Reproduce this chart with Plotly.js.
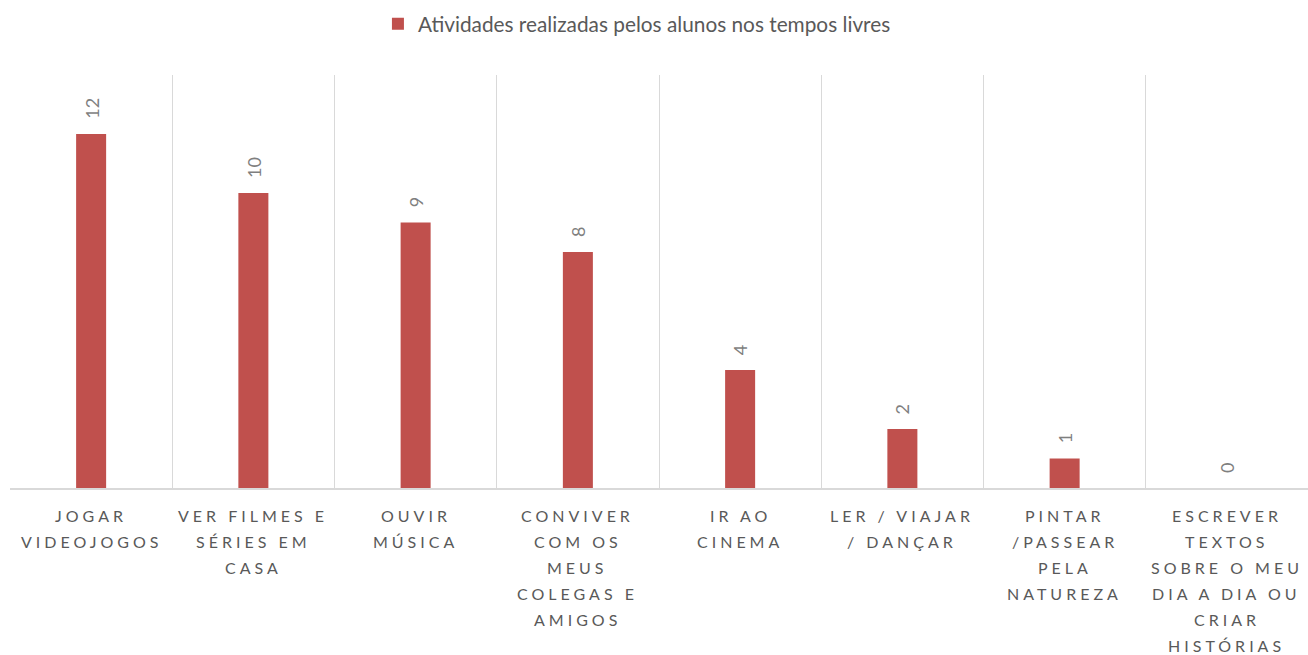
<!DOCTYPE html>
<html>
<head>
<meta charset="utf-8">
<script src="https://cdn.plot.ly/plotly-3.0.1.min.js"></script>
<style>
html, body { margin: 0; padding: 0; background: #fff; }
#chart { width: 1308px; height: 655px; }
</style>
</head>
<body>
<div id="chart"></div>
<script>
const seriesName = "Atividades realizadas pelos alunos nos tempos livres";
const categories = [
  "JOGAR VIDEOJOGOS",
  "VER FILMES E SÉRIES EM CASA",
  "OUVIR MÚSICA",
  "CONVIVER COM OS MEUS COLEGAS E AMIGOS",
  "IR AO CINEMA",
  "LER / VIAJAR / DANÇAR",
  "PINTAR /PASSEAR PELA NATUREZA",
  "ESCREVER TEXTOS SOBRE O MEU DIA A DIA OU CRIAR HISTÓRIAS"
];
const labelLines = [
  ["JOGAR", "VIDEOJOGOS"],
  ["VER FILMES E", "SÉRIES EM", "CASA"],
  ["OUVIR", "MÚSICA"],
  ["CONVIVER", "COM OS", "MEUS", "COLEGAS E", "AMIGOS"],
  ["IR AO", "CINEMA"],
  ["LER / VIAJAR", "/ DANÇAR"],
  ["PINTAR", "/PASSEAR", "PELA", "NATUREZA"],
  ["ESCREVER", "TEXTOS", "SOBRE O MEU", "DIA A DIA OU", "CRIAR", "HISTÓRIAS"]
];
const values = [12, 10, 9, 8, 4, 2, 1, 0];

const FONT = "Lato, 'Open Sans', sans-serif";
const annotations = [];
values.forEach((v, i) => {
  annotations.push({
    x: categories[i], y: v, xref: "x", yref: "y",
    text: String(v), showarrow: false, textangle: -90,
    yanchor: "bottom", xanchor: "center", yshift: 14, borderpad: 0,
    font: { family: FONT, size: 18, color: "#7f7f7f" }
  });
});
labelLines.forEach((lines, i) => {
  lines.forEach((ln, j) => {
    annotations.push({
      x: categories[i], y: 0, xref: "x", yref: "paper",
      text: '<span style="letter-spacing:4px">' + ln + '</span>',
      showarrow: false, yanchor: "top", xanchor: "center",
      yshift: -17 - 26 * j, borderpad: 0,
      font: { family: FONT, size: 16, color: "#595959" }
    });
  });
});

const data = [{
  type: "bar",
  name: seriesName,
  x: categories,
  y: values,
  marker: { color: "#c0504d" },
  hoverinfo: "skip"
}];

const layout = {
  width: 1308, height: 655,
  margin: { l: 10, r: 0, t: 75, b: 167 },
  paper_bgcolor: "#ffffff", plot_bgcolor: "#ffffff",
  bargap: 0.815,
  showlegend: true,
  legend: {
    orientation: "h", x: 0.483, xanchor: "center", y: 1.123, yanchor: "middle",
    font: { family: FONT, size: 20.8, color: "#595959" }
  },
  xaxis: {
    type: "category", range: [-0.5, 7.5],
    showticklabels: false, ticks: "",
    showgrid: true, tickson: "boundaries", gridcolor: "#d9d9d9", gridwidth: 1,
    showline: true, linecolor: "#d9d9d9", linewidth: 1.5,
    fixedrange: true
  },
  yaxis: {
    range: [0, 14], showgrid: false, zeroline: false, showticklabels: false,
    showline: false, fixedrange: true
  },
  annotations: annotations
};

Plotly.newPlot("chart", data, layout, { displayModeBar: false, staticPlot: true });
</script>
</body>
</html>
